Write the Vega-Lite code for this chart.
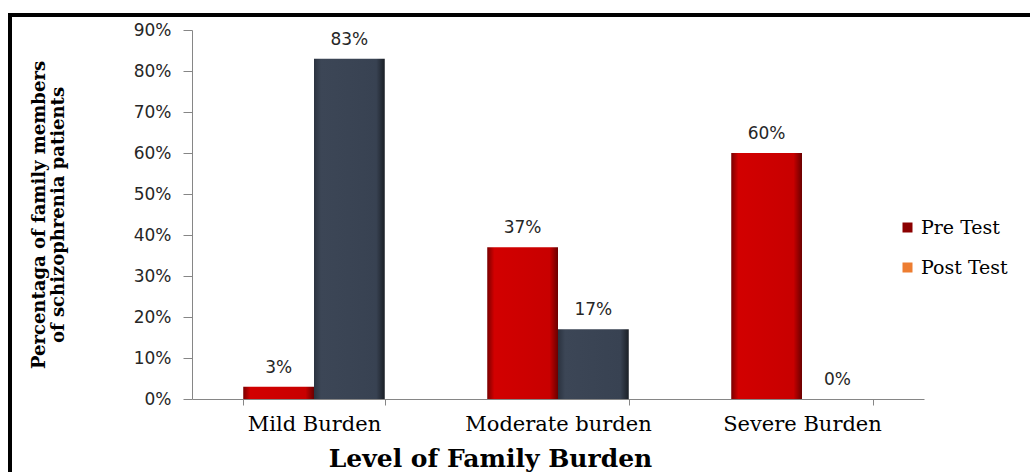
{
  "$schema": "https://vega.github.io/schema/vega-lite/v6.json",
  "width": 1020,
  "height": 457,
  "autosize": {"type": "none"},
  "padding": {"left": 10, "top": 15, "right": 0, "bottom": 0},
  "background": "white",
  "config": {
    "view": {"stroke": "#000000", "strokeWidth": 4, "strokeDash": [1020, 1477, 460]}
  },
  "data": {
    "values": [
      {"cat": "Mild Burden", "test": "Pre Test", "value": 0.03},
      {"cat": "Mild Burden", "test": "Post Test", "value": 0.83},
      {"cat": "Moderate burden", "test": "Pre Test", "value": 0.37},
      {"cat": "Moderate burden", "test": "Post Test", "value": 0.17},
      {"cat": "Severe Burden", "test": "Pre Test", "value": 0.60},
      {"cat": "Severe Burden", "test": "Post Test", "value": 0.0}
    ]
  },
  "encoding": {
    "x": {
      "field": "cat",
      "type": "nominal",
      "sort": ["Mild Burden", "Moderate burden", "Severe Burden"],
      "scale": {"range": [182, 914], "paddingInner": 0.42, "paddingOuter": 0.21},
      "axis": {
        "title": "Level of Family Burden",
        "labelAngle": 0,
        "labelLimit": 0,
        "labelFont": "DejaVu Serif",
        "labelFontSize": 21,
        "labelColor": "#000000",
        "labelPadding": 8,
        "tickBand": "extent",
        "tickSize": 6,
        "tickColor": "#868686",
        "domainColor": "#868686",
        "offset": -73,
        "titleFont": "DejaVu Serif",
        "titleFontSize": 25,
        "titleFontWeight": "bold",
        "titleColor": "#000000",
        "titleX": 480,
        "titlePadding": 12
      }
    },
    "xOffset": {
      "field": "test",
      "type": "nominal",
      "sort": ["Pre Test", "Post Test"],
      "scale": {"domain": ["Pre Test", "Post Test"], "paddingInner": 0}
    },
    "y": {
      "field": "value",
      "type": "quantitative",
      "scale": {"domain": [0, 0.9], "range": [384, 15], "nice": false},
      "axis": {
        "values": [0, 0.1, 0.2, 0.3, 0.4, 0.5, 0.6, 0.7, 0.8, 0.9],
        "format": ".0%",
        "grid": false,
        "offset": -182,
        "labelFont": "DejaVu Sans",
        "labelFontSize": 17,
        "labelColor": "#262626",
        "labelPadding": 12,
        "tickSize": 9,
        "tickColor": "#868686",
        "domainColor": "#868686",
        "title": ["Percentaga of family members", "of schizophrenia patients"],
        "titleFont": "DejaVu Serif",
        "titleFontSize": 18,
        "titleFontWeight": "bold",
        "titleColor": "#000000",
        "titleLineHeight": 19,
        "titlePadding": 66
      }
    }
  },
  "layer": [
    {
      "mark": {"type": "bar"},
      "encoding": {
        "fill": {
          "condition": {
            "test": "datum.test === 'Pre Test'",
            "value": {
              "gradient": "linear", "x1": 0, "y1": 0, "x2": 1, "y2": 0,
              "stops": [
                {"offset": 0, "color": "#7a0000"},
                {"offset": 0.1, "color": "#d20000"},
                {"offset": 0.88, "color": "#c80000"},
                {"offset": 1, "color": "#6a0000"}
              ]
            }
          },
          "value": {
            "gradient": "linear", "x1": 0, "y1": 0, "x2": 1, "y2": 0,
            "stops": [
              {"offset": 0, "color": "#2b3340"},
              {"offset": 0.1, "color": "#3c4656"},
              {"offset": 0.88, "color": "#384252"},
              {"offset": 1, "color": "#1a1f26"}
            ]
          }
        }
      }
    },
    {
      "mark": {"type": "text", "baseline": "alphabetic", "dy": -14, "font": "DejaVu Sans", "fontSize": 17, "color": "#262626"},
      "encoding": {
        "text": {"field": "value", "type": "quantitative", "format": ".0%"}
      }
    },
    {
      "mark": {"type": "bar", "strokeWidth": 0},
      "encoding": {
        "y": {"datum": 0},
        "color": {
          "field": "test",
          "type": "nominal",
          "scale": {"domain": ["Pre Test", "Post Test"], "range": ["#8b0000", "#ed7d31"]},
          "legend": {
            "orient": "none",
            "legendX": 888,
            "legendY": 203,
            "title": null,
            "symbolType": "square",
            "symbolSize": 100,
            "symbolStrokeWidth": 0,
            "labelFont": "DejaVu Serif",
            "labelFontSize": 19,
            "labelColor": "#000000",
            "labelOffset": 4,
            "labelLimit": 0,
            "rowPadding": 20
          }
        }
      }
    }
  ]
}
